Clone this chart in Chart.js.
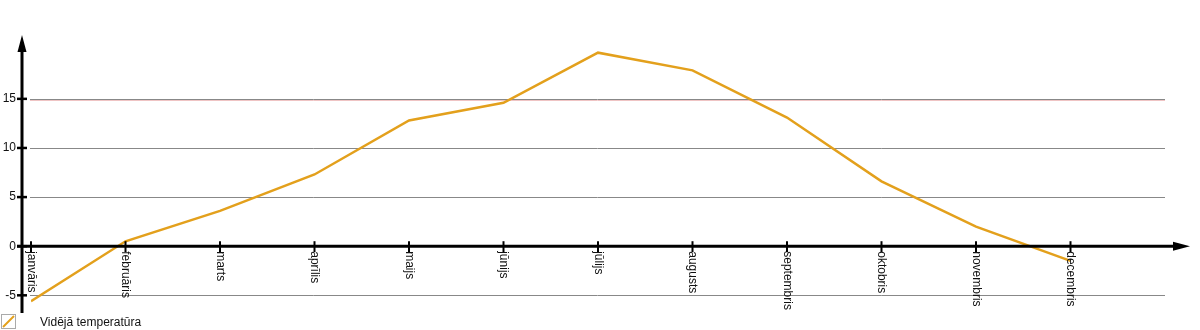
<!DOCTYPE html>
<html>
<head>
<meta charset="utf-8">
<script src="https://cdn.jsdelivr.net/npm/chart.js@4"></script>
<style>
html,body{margin:0;padding:0;background:#fff;}
canvas{display:block;}
</style>
</head>
<body>
<canvas id="c" width="1200" height="330"></canvas>
<script>
const months = ['janvāris','februāris','marts','aprīlis','maijs','jūnijs','jūlijs','augusts','septembris','oktobris','novembris','decembris'];
const temperature = [-5.6, 0.5, 3.6, 7.3, 12.8, 14.6, 19.7, 17.9, 13.1, 6.6, 2.0, -1.5];
const yTicks = [-5, 0, 5, 10, 15];
const seriesName = 'Vidējā temperatūra';

const FONT = '12px "Liberation Sans", Arial, sans-serif';
const LINE_COLOR = '#e3a01c';

const axesPlugin = {
  id: 'customAxes',
  beforeDatasetsDraw(chart) {
    const ctx = chart.ctx;
    const ys = chart.scales.y;
    const area = chart.chartArea;
    ctx.save();
    yTicks.forEach(v => {
      if (v === 0) return;
      const py = Math.round(ys.getPixelForValue(v)) + 0.5;
      ctx.strokeStyle = '#888';
      ctx.lineWidth = 1;
      ctx.beginPath(); ctx.moveTo(area.left - 1, py); ctx.lineTo(area.right, py); ctx.stroke();
      if (v === 15) {
        ctx.strokeStyle = '#efc4c4';
        ctx.beginPath(); ctx.moveTo(area.left - 1, py + 1); ctx.lineTo(area.right, py + 1); ctx.stroke();
      }
    });
    ctx.restore();
  },
  afterDatasetsDraw(chart) {
    const ctx = chart.ctx;
    const xs = chart.scales.x, ys = chart.scales.y;
    const area = chart.chartArea;
    const y0 = ys.getPixelForValue(0);
    const axisX = area.left - 9;
    ctx.save();
    ctx.strokeStyle = '#000';
    ctx.fillStyle = '#000';
    ctx.lineWidth = 3;
    ctx.beginPath(); ctx.moveTo(axisX, area.bottom); ctx.lineTo(axisX, area.top + 12); ctx.stroke();
    ctx.beginPath(); ctx.moveTo(axisX, area.top); ctx.lineTo(axisX - 4.5, area.top + 17); ctx.lineTo(axisX + 4.5, area.top + 17); ctx.closePath(); ctx.fill();
    ctx.beginPath(); ctx.moveTo(axisX - 5, y0); ctx.lineTo(area.right + 15, y0); ctx.stroke();
    const tipX = area.right + 25;
    ctx.beginPath(); ctx.moveTo(tipX, y0); ctx.lineTo(tipX - 17, y0 - 4.5); ctx.lineTo(tipX - 17, y0 + 4.5); ctx.closePath(); ctx.fill();
    ctx.font = FONT;
    yTicks.forEach(v => {
      const py = ys.getPixelForValue(v);
      ctx.lineWidth = 2.5;
      ctx.strokeStyle = '#000';
      ctx.beginPath(); ctx.moveTo(axisX - 5, py); ctx.lineTo(axisX + 5, py); ctx.stroke();
      ctx.textAlign = 'right'; ctx.textBaseline = 'middle';
      ctx.fillStyle = '#111';
      ctx.fillText(String(v), axisX - 6, py);
    });
    months.forEach((m, i) => {
      const px = xs.getPixelForValue(i);
      ctx.lineWidth = 2;
      ctx.strokeStyle = '#000';
      ctx.beginPath(); ctx.moveTo(px, y0 - 5); ctx.lineTo(px, y0 + 6); ctx.stroke();
      ctx.save();
      ctx.translate(px, y0 + 5);
      ctx.rotate(Math.PI / 2);
      ctx.textAlign = 'left'; ctx.textBaseline = 'middle';
      ctx.fillStyle = '#111';
      ctx.fillText(m, 0, 0);
      ctx.restore();
    });
    ctx.strokeStyle = '#aaa';
    ctx.lineWidth = 1;
    ctx.strokeRect(1.5, 314.5, 14, 14);
    ctx.strokeStyle = LINE_COLOR;
    ctx.lineWidth = 2;
    ctx.beginPath(); ctx.moveTo(3, 327); ctx.lineTo(14, 316); ctx.stroke();
    ctx.fillStyle = '#111';
    ctx.textAlign = 'left'; ctx.textBaseline = 'middle';
    ctx.fillText(seriesName, 40, 323);
    ctx.restore();
  }
};

new Chart(document.getElementById('c'), {
  type: 'line',
  data: {
    datasets: [{
      label: seriesName,
      data: temperature.map((v, i) => ({x: i, y: v})),
      borderColor: LINE_COLOR,
      borderWidth: 2.5,
      pointRadius: 0,
      tension: 0,
      fill: false
    }]
  },
  options: {
    responsive: false,
    animation: false,
    events: [],
    layout: { padding: { left: 31, right: 35, top: 35, bottom: 17 } },
    plugins: { legend: { display: false }, tooltip: { enabled: false } },
    scales: {
      x: { type: 'linear', min: 0, max: months.length, display: false },
      y: { type: 'linear', min: -6.8, max: 21.5, display: false }
    }
  },
  plugins: [axesPlugin]
});
</script>
</body>
</html>
